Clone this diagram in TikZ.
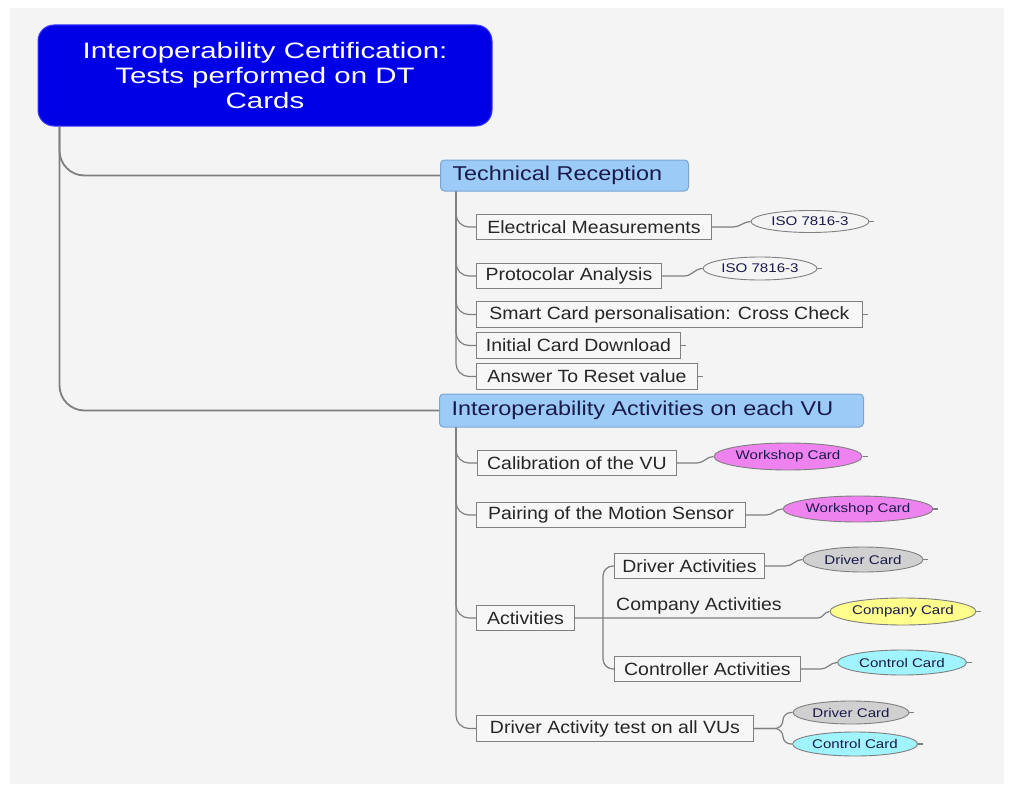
\documentclass[tikz,border=0pt]{standalone}
\usepackage{fontspec}
\setmainfont{Liberation Sans}
\newfontfamily\rootf[FakeStretch=1.32]{Liberation Sans}
\newfontfamily\lonef[FakeStretch=1.17]{Liberation Sans}
\newfontfamily\childf[FakeStretch=1.1]{Liberation Sans}
\newfontfamily\ellf[FakeStretch=1.2]{Liberation Sans}
\usetikzlibrary{shapes.geometric,calc}
\definecolor{bggray}{HTML}{F4F4F4}
\definecolor{rootblue}{HTML}{0000E6}
\definecolor{rootedge}{HTML}{3A3AFF}
\definecolor{lonefill}{HTML}{9CCBF7}
\definecolor{loneedge}{HTML}{7AA5D2}
\definecolor{boxedge}{HTML}{808080}
\definecolor{boxfill}{HTML}{F7F7F7}
\definecolor{linegray}{HTML}{7F7F7F}
\definecolor{navy}{HTML}{1A1A4A}
\definecolor{txtdark}{HTML}{262626}
\definecolor{wsfill}{HTML}{EE82EE}
\definecolor{drfill}{HTML}{D0D0D0}
\definecolor{cofill}{HTML}{FFFF8C}
\definecolor{ctfill}{HTML}{A0F4FF}
\definecolor{elledge}{HTML}{7F7F7F}
\tikzset{
  rootbox/.style={draw=rootedge, line width=1pt, fill=rootblue, rounded corners=16pt,
    text=white, align=center, minimum width=454pt, minimum height=101pt, inner sep=0pt,
    font=\rootf\fontsize{22.3}{25}\selectfont},
  lonebox/.style={draw=loneedge, line width=1pt, fill=lonefill, rounded corners=4pt,
    text=navy, anchor=west, inner xsep=12pt, inner ysep=0pt, align=left,
    font=\lonef\fontsize{20}{24}\selectfont},
  childbox/.style={draw=boxedge, line width=0.9pt, fill=boxfill, text=txtdark,
    anchor=west, inner xsep=5pt, inner ysep=0pt, minimum height=25.5pt,
    font=\childf\fontsize{17.7}{21}\selectfont},
  plaintext/.style={text=txtdark, inner sep=0pt,
    font=\childf\fontsize{17.7}{21}\selectfont},
  tag/.style={ellipse, draw=elledge, line width=0.9pt, inner sep=0pt, text=navy,
    font=\ellf\fontsize{12.6}{14}\selectfont},
  trunk/.style={draw=linegray, line width=1.8pt},
  conn/.style={draw=linegray, line width=1.2pt},
}
\newcommand{\lnk}[2]{\draw[conn] (#1.east) -- ($(#1.east)!0.55!(#1.east -| #2.west)$) to[out=0,in=180] (#2.west);}
\begin{document}
\begin{tikzpicture}[x=1pt,y=-1pt]
\useasboundingbox (0,0) rectangle (1010,792);
\fill[white] (0,0) rectangle (1010,792);
\fill[bggray] (10,8) rectangle (1004,784);

% root
\node[rootbox] (root) at (265,75.5) {Interoperability Certification:\\Tests performed on DT\\Cards};

% level one
\node[lonebox, text width=224pt, minimum height=31pt] (tr) at (440,175.5) {Technical Reception};
\node[lonebox, text width=400pt, minimum height=33pt] (iv) at (439,410.5) {Interoperability Activities on each VU};

\draw[trunk, rounded corners=25pt] ([xshift=22pt]root.south west) |- (tr.west);
\draw[trunk, rounded corners=25pt] ([xshift=22pt]root.south west) |- (iv.west);

% technical reception children
\node[childbox, minimum width=235pt] (em) at (476,227) {Electrical Measurements};
\node[childbox, minimum width=185pt] (pa) at (476,276) {Protocolar Analysis};
\node[childbox, minimum width=386pt] (sc) at (476,314.5) {Smart Card personalisation: Cross Check};
\node[childbox, minimum width=204pt] (icd) at (476,345.5) {Initial Card Download};
\node[childbox, minimum width=221pt] (atr) at (476,376.5) {Answer To Reset value};

\coordinate (trv) at ([xshift=16pt]tr.south west);
\foreach \n in {em,pa,sc,icd,atr}{
  \draw[conn, rounded corners=13pt] (trv) |- (\n.west);
}

\node[tag, fill=bggray, minimum width=118pt, minimum height=22pt] (iso1) at (810,221.5) {ISO 7816-3};
\node[tag, fill=bggray, minimum width=114pt, minimum height=23pt] (iso2) at (760,268.5) {ISO 7816-3};
\lnk{em}{iso1}
\lnk{pa}{iso2}
\draw[conn] (sc.east) -- ++(5,0);
\draw[conn] (icd.east) -- ++(5,0);
\draw[conn] (atr.east) -- ++(5,0);

% interoperability children
\node[childbox, minimum width=199pt] (cal) at (477,463) {Calibration of the VU};
\node[childbox, minimum width=269pt] (pair) at (476,515) {Pairing of the Motion Sensor};
\node[childbox, minimum width=98pt] (act) at (476,618) {Activities};
\node[childbox, minimum width=277pt] (dat) at (476,728.5) {Driver Activity test on all VUs};

\coordinate (ivv) at ([xshift=17pt]iv.south west);
\foreach \n in {cal,pair,act,dat}{
  \draw[conn, rounded corners=13pt] (ivv) |- (\n.west);
}

\node[tag, fill=wsfill, minimum width=146pt, minimum height=27pt] (ws1) at (788,456.5) {Workshop Card};
\node[tag, fill=wsfill, minimum width=150pt, minimum height=26pt] (ws2) at (858,509) {Workshop Card};
\lnk{cal}{ws1}
\lnk{pair}{ws2}

% activities sub-branch
\node[childbox, minimum width=150pt] (da) at (614,566) {Driver Activities};
\node[plaintext, anchor=west] (compa) at (616,606) {Company Activities};
\node[childbox, minimum width=186pt] (ctl) at (614,669) {Controller Activities};

\node[tag, fill=drfill, minimum width=120pt, minimum height=25pt] (dc1) at (863,559.5) {Driver Card};
\node[tag, fill=cofill, minimum width=146pt, minimum height=27pt] (cc) at (903,611.5) {Company Card};
\node[tag, fill=ctfill, minimum width=129pt, minimum height=25pt] (ctc) at (902,662.5) {Control Card};

\coordinate (ab) at (603,618);
\coordinate (cu) at (818,618);
\draw[conn] (act.east) -- (cu) to[out=0,in=180] (cc.west);
\draw[conn, rounded corners=10pt] (ab) |- (da.west);
\draw[conn, rounded corners=10pt] (ab) |- (ctl.west);
\lnk{da}{dc1}
\lnk{ctl}{ctc}

% driver activity test
\node[tag, fill=drfill, minimum width=116pt, minimum height=23pt] (dc2) at (851,712.5) {Driver Card};
\node[tag, fill=ctfill, minimum width=125pt, minimum height=24pt] (ctc2) at (855,744) {Control Card};
\draw[conn, rounded corners=8pt] (dat.east) -- ++(29,0) |- (dc2.west);
\draw[conn, rounded corners=8pt] (dat.east) -- ++(29,0) |- (ctc2.west);

% stubs on tags
\foreach \n in {iso1,iso2,ws1,ws2,dc1,cc,ctc,dc2,ctc2}{
  \draw[conn] (\n.east) -- ++(5,0);
}
\end{tikzpicture}
\end{document}
